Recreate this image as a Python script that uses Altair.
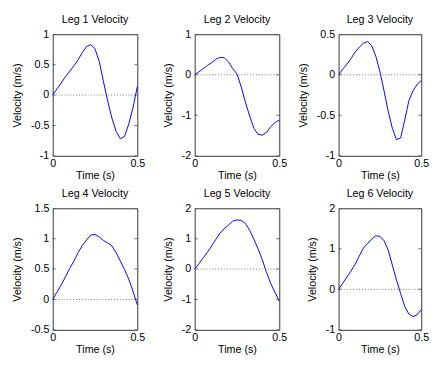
import altair as alt
import pandas as pd

t = [0, 0.025, 0.05, 0.075, 0.1, 0.125, 0.15, 0.175, 0.2, 0.225, 0.25,
     0.275, 0.3, 0.325, 0.35, 0.375, 0.4, 0.425, 0.45, 0.475, 0.5]

leg1 = [0, 0.10, 0.20, 0.30, 0.39, 0.48, 0.58, 0.70, 0.80, 0.83, 0.76,
        0.55, 0.22, -0.10, -0.38, -0.60, -0.72, -0.68, -0.47, -0.20, 0.14]
leg2 = [0, 0.07, 0.15, 0.23, 0.30, 0.38, 0.43, 0.42, 0.32, 0.15, 0.02,
        -0.30, -0.68, -1.02, -1.32, -1.47, -1.49, -1.42, -1.28, -1.18, -1.12]
leg3 = [0, 0.07, 0.13, 0.20, 0.28, 0.34, 0.39, 0.41, 0.36, 0.23, 0.04,
        -0.20, -0.45, -0.66, -0.80, -0.78, -0.56, -0.32, -0.20, -0.12, -0.07]
leg4 = [0, 0.12, 0.24, 0.37, 0.51, 0.63, 0.77, 0.89, 0.98, 1.06, 1.07,
        1.03, 0.97, 0.93, 0.88, 0.77, 0.63, 0.49, 0.33, 0.13, -0.09]
leg5 = [0, 0.18, 0.37, 0.55, 0.76, 0.98, 1.18, 1.33, 1.45, 1.58, 1.62,
        1.60, 1.50, 1.28, 0.98, 0.66, 0.30, -0.12, -0.48, -0.77, -1.06]
leg6 = [0, 0.15, 0.30, 0.45, 0.62, 0.82, 1.02, 1.13, 1.24, 1.32, 1.31,
        1.20, 0.97, 0.60, 0.23, -0.10, -0.42, -0.61, -0.67, -0.63, -0.50]

legs = [leg1, leg2, leg3, leg4, leg5, leg6]
titles = ["Leg 1 Velocity", "Leg 2 Velocity", "Leg 3 Velocity",
          "Leg 4 Velocity", "Leg 5 Velocity", "Leg 6 Velocity"]
y_domains = [[-1, 1], [-2, 1], [-1, 0.5], [-0.5, 1.5], [-2, 2], [-1, 2]]
y_ticks = [[-1, -0.5, 0, 0.5, 1], [-2, -1, 0, 1], [-1, -0.5, 0, 0.5],
           [-0.5, 0, 0.5, 1, 1.5], [-2, -1, 0, 1, 2], [-1, 0, 1, 2]]
x_domain = [0, 0.5]
x_ticks = [0, 0.5]
panel_widths = [87, 87, 85, 87, 87, 85]

FONT = "Liberation Sans"


def panel(i):
    xs = alt.Scale(domain=x_domain, nice=False, zero=False)
    ys = alt.Scale(domain=y_domains[i], nice=False, zero=False)
    xax = alt.Axis(values=x_ticks, title="Time (s)", labelExpr="'' + datum.value",
                   labelOverlap=False, tickCount=10)
    yax = alt.Axis(values=y_ticks[i], title="Velocity (m/s)", labelExpr="'' + datum.value",
                   labelOverlap=False, tickCount=10)
    X = alt.X("t:Q", scale=xs, axis=xax)
    Y = alt.Y("v:Q", scale=ys, axis=yax)

    df = pd.DataFrame({"t": t, "v": legs[i]})
    zdf = pd.DataFrame({"t": x_domain, "v": [0, 0]})
    tdf = pd.DataFrame({
        "t": [x_domain[0]] * len(y_ticks[i]) + [x_domain[1]] * len(y_ticks[i]),
        "v": y_ticks[i] + y_ticks[i],
    })

    line = alt.Chart(df).mark_line(color="#0000ff", strokeWidth=1).encode(x=X, y=Y)
    zero = alt.Chart(zdf).mark_line(color="#8a6a6a", strokeWidth=1,
                                    strokeDash=[1, 2]).encode(x=X, y=Y)
    ticks = alt.Chart(tdf).mark_tick(orient="horizontal", size=6, thickness=1,
                                     clip=True, color="#333333").encode(x=X, y=Y)
    return alt.layer(line, zero, ticks).properties(
        width=panel_widths[i], height=125,
        title=alt.TitleParams(titles[i], frame="group"))


row1 = alt.hconcat(alt.hconcat(panel(0), panel(1), spacing=16), panel(2), spacing=9)
row2 = alt.hconcat(alt.hconcat(panel(3), panel(4), spacing=16), panel(5), spacing=18)

chart = alt.vconcat(row1, row2, spacing=6).properties(
    padding={"left": 3, "top": 0, "right": 0, "bottom": 0}
).configure_view(
    stroke="#333333", strokeWidth=1
).configure_axis(
    domain=False, ticks=False, grid=False, labelOverlap=False,
    labelFont=FONT, titleFont=FONT, labelFontSize=11, titleFontSize=11,
    titleFontWeight="normal", labelColor="#000000", titleColor="#000000",
).configure_axisX(
    labelPadding=2, titlePadding=1, labelFlush=False
).configure_axisY(
    labelPadding=4, titlePadding=8, labelFlush=False
).configure_title(
    font=FONT, fontSize=11, fontWeight="normal", color="#000000", offset=0,
    baseline="bottom"
)

chart.save("out.html", embed_options={"renderer": "svg", "actions": False})
